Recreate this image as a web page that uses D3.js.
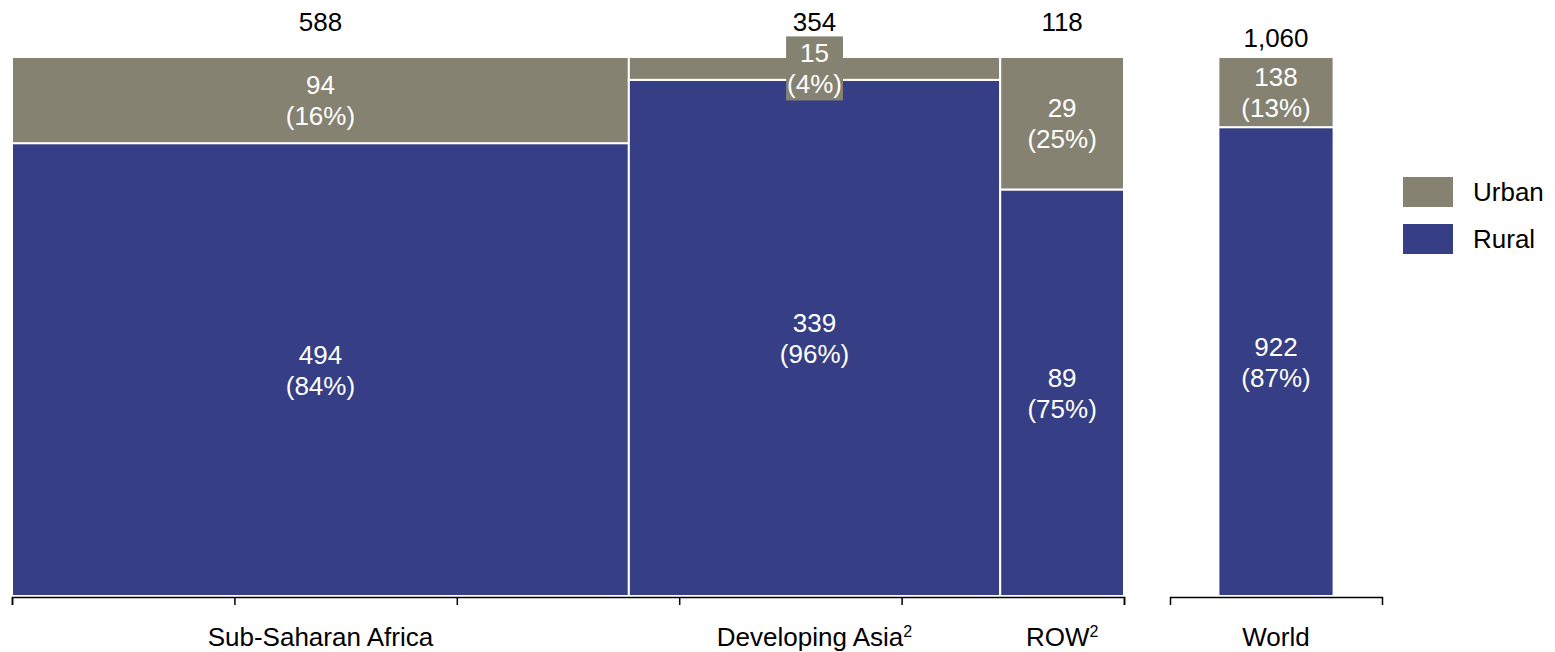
<!DOCTYPE html>
<html>
<head>
<meta charset="utf-8">
<script src="https://cdn.jsdelivr.net/npm/d3@7"></script>
<style>
  body { margin: 0; background: #fff; }
  text { font-family: Arial, "Liberation Sans", sans-serif; }
</style>
</head>
<body>
<svg width="1555" height="652"></svg>
<script>
// data
var regions = ["Sub-Saharan Africa", "Developing Asia", "ROW"];
var footnotes = ["", "2", "2"];
var urban = [94, 15, 29];
var rural = [494, 339, 89];
var worldLabel = "World";
var worldUrban = 138;
var worldRural = 922;
var seriesNames = ["Urban", "Rural"];

var colUrban = "#858272", colRural = "#363f85";
var fs = 26;
var fmt = d3.format(",");

var svg = d3.select("svg");

var totals = regions.map(function (d, i) { return urban[i] + rural[i]; });
var grand = d3.sum(totals);
var starts = d3.cumsum([0].concat(totals.slice(0, -1)));

// scales
var x = d3.scaleLinear().domain([0, grand]).range([12, 1124]);
var y = d3.scaleLinear().domain([0, 1]).range([596, 57]);
var xw = d3.scaleBand().domain([worldLabel]).range([1170, 1382]).paddingInner(0).paddingOuter(0.42);

// build segments
var segs = [];
regions.forEach(function (r, i) {
  var t = totals[i];
  segs.push({ x0: x(starts[i]), x1: x(starts[i] + t), s0: 0, s1: rural[i] / t, v: rural[i], t: t, c: colRural });
  segs.push({ x0: x(starts[i]), x1: x(starts[i] + t), s0: rural[i] / t, s1: 1, v: urban[i], t: t, c: colUrban });
});
var wt = worldUrban + worldRural;
segs.push({ x0: xw(worldLabel), x1: xw(worldLabel) + xw.bandwidth(), s0: 0, s1: worldRural / wt, v: worldRural, t: wt, c: colRural });
segs.push({ x0: xw(worldLabel), x1: xw(worldLabel) + xw.bandwidth(), s0: worldRural / wt, s1: 1, v: worldUrban, t: wt, c: colUrban });

svg.append("g").selectAll("rect")
  .data(segs)
  .enter().append("rect")
    .attr("x", function (d) { return d.x0; })
    .attr("y", function (d) { return y(d.s1); })
    .attr("width", function (d) { return d.x1 - d.x0; })
    .attr("height", function (d) { return y(d.s0) - y(d.s1); })
    .attr("fill", function (d) { return d.c; })
    .attr("stroke", "#fff")
    .attr("stroke-width", 2);

// segment labels
var lab = svg.append("g").selectAll("g")
  .data(segs)
  .enter().append("g")
    .attr("transform", function (d) {
      return "translate(" + (d.x0 + d.x1) / 2 + "," + (y(d.s0) + y(d.s1)) / 2 + ")";
    });

lab.each(function (d) {
  var g = d3.select(this);
  var small = (y(d.s0) - y(d.s1)) < 50;
  var bg = small ? g.append("rect").attr("fill", d.c) : null;
  var t1 = g.append("text").attr("y", -15).text(fmt(d.v));
  var t2 = g.append("text").attr("y", 16).text("(" + Math.round(d.v / d.t * 100) + "%)");
  g.selectAll("text")
    .attr("text-anchor", "middle")
    .attr("dominant-baseline", "central")
    .attr("fill", "#fff")
    .attr("font-size", fs);
  if (bg) {
    var w = Math.max(t1.node().getComputedTextLength(), t2.node().getComputedTextLength()) + 2;
    bg.attr("x", -w / 2).attr("y", -32).attr("width", w).attr("height", 64);
  }
});

// totals
svg.append("g").selectAll("text")
  .data(totals)
  .enter().append("text")
    .attr("x", function (d, i) { return x(starts[i] + d / 2); })
    .attr("y", y(1) - 26)
    .attr("text-anchor", "middle")
    .attr("font-size", fs)
    .text(function (d) { return fmt(d); });

svg.append("text")
  .attr("x", xw(worldLabel) + xw.bandwidth() / 2)
  .attr("y", y(1) - 10)
  .attr("text-anchor", "middle")
  .attr("font-size", fs)
  .text(fmt(wt));

// axes
svg.append("g")
  .attr("transform", "translate(0,597)")
  .call(d3.axisBottom(x).tickValues(d3.range(0, 6).map(function (i) { return grand * i / 5; }))
    .tickFormat("").tickSize(8).tickSizeOuter(8));
svg.append("g")
  .attr("transform", "translate(0,597)")
  .call(d3.axisBottom(xw).tickValues([]).tickSizeOuter(8));
svg.selectAll(".domain, .tick line").attr("stroke", "#000").attr("stroke-width", 1.5);

// category labels
var cats = svg.append("g").selectAll("text")
  .data(regions)
  .enter().append("text")
    .attr("x", function (d, i) { return x(starts[i] + totals[i] / 2); })
    .attr("y", 646)
    .attr("text-anchor", "middle")
    .attr("font-size", fs);
cats.append("tspan").text(function (d) { return d; });
cats.append("tspan")
  .attr("font-size", 16)
  .attr("dy", -9)
  .text(function (d, i) { return footnotes[i]; });

svg.append("text")
  .attr("x", xw(worldLabel) + xw.bandwidth() / 2)
  .attr("y", 646)
  .attr("text-anchor", "middle")
  .attr("font-size", fs)
  .text(worldLabel);

// legend
var leg = svg.append("g").selectAll("g")
  .data(seriesNames)
  .enter().append("g")
    .attr("transform", function (d, i) { return "translate(1403," + (177 + i * 47) + ")"; });
leg.append("rect")
  .attr("width", 50).attr("height", 30)
  .attr("fill", function (d, i) { return i === 0 ? colUrban : colRural; });
leg.append("text")
  .attr("x", 70).attr("y", 15)
  .attr("dominant-baseline", "central")
  .attr("font-size", fs)
  .text(function (d) { return d; });
</script>
</body>
</html>
